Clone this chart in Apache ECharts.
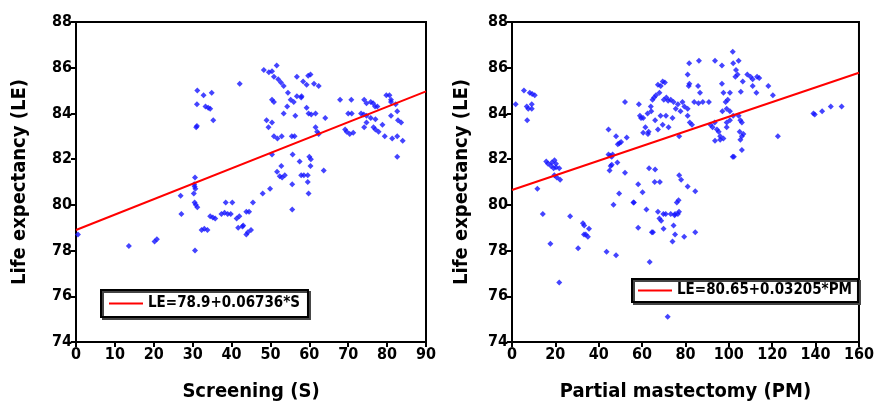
<!DOCTYPE html>
<html>
<head>
<meta charset="utf-8">
<script src="https://cdn.jsdelivr.net/npm/echarts@6/dist/echarts.min.js"></script>
<style>
  html, body { margin: 0; padding: 0; background: #fff; }
  #chart { width: 877px; height: 407px; }
</style>
</head>
<body>
<div id="chart"></div>
<script>
// screening (S) vs life expectancy (LE)
var screeningPts = [
  [0.5,78.7],[13.6,78.2],[20.2,78.4],[20.8,78.5],[26.9,80.4],[27.1,79.6],
  [30.6,81.2],[30.4,80.9],[30.5,80.8],[30.7,80.7],[30.3,80.5],[30.5,80.1],[30.8,80.0],[31.2,79.9],[30.6,78.0],
  [30.9,83.4],[31.1,83.45],[31.1,84.4],[31.2,85.0],[32.8,84.8],[34.9,84.9],[33.3,84.3],[34.0,84.25],[34.5,84.2],[35.3,83.7],[42.1,85.3],
  [32.3,78.9],[33.0,78.95],[33.8,78.9],[34.5,79.5],[35.2,79.45],[35.8,79.4],
  [38.5,80.1],[40.2,80.1],[37.4,79.6],[38.2,79.65],[39.0,79.6],[39.8,79.6],[41.3,79.4],[42.0,79.5],[41.7,79.0],[43.0,79.1],[43.8,79.7],[43.8,78.7],
  [44.5,79.7],[42.8,79.05],[44.2,78.8],[45.0,78.9],[45.5,80.1],[48.0,80.5],[49.9,80.7],
  [50.4,82.2],[51.7,81.45],[52.4,81.25],[53.0,81.2],[53.7,81.3],[52.8,81.7],[55.6,80.9],[55.6,79.8],[55.7,82.2],[57.5,81.9],
  [57.9,81.3],[58.6,81.3],[59.6,81.3],[60.3,81.7],[60.0,82.1],[60.4,82.0],[59.6,81.0],[59.8,80.5],[63.7,81.5],
  [49.0,83.7],[49.5,83.4],[50.4,83.6],[50.9,83.0],[51.8,82.9],[52.9,83.0],
  [48.3,85.9],[49.6,85.8],[50.4,85.85],[51.6,86.1],[50.9,85.6],[52.0,85.5],[52.7,85.35],[53.4,85.2],
  [50.4,84.6],[50.9,84.5],[54.5,84.9],[55.2,84.6],[56.0,84.5],[53.4,84.0],[54.3,84.3],[55.5,83.0],[56.2,83.0],[56.4,83.9],
  [56.8,84.75],[57.9,84.7],[58.0,84.75],[56.8,85.6],[58.4,85.4],[59.3,85.25],[59.7,85.65],[60.3,85.7],
  [59.3,84.25],[59.8,84.0],[60.5,83.95],[61.6,84.0],[61.6,83.4],[62.0,83.2],[62.4,83.1],[64.1,83.8],[61.2,85.3],[62.4,85.2],
  [67.9,84.6],[70.0,84.0],[70.8,84.6],[70.9,84.0],[69.2,83.3],[69.6,83.2],[70.4,83.1],[71.3,83.15],
  [74.1,84.6],[74.7,84.45],[75.8,84.5],[76.4,84.45],[76.9,84.3],[77.5,84.3],[73.3,84.0],[74.0,83.95],[74.7,83.9],
  [74.1,83.4],[74.7,83.6],[75.8,83.8],[77.0,83.75],[76.5,83.4],[77.0,83.3],[77.8,83.2],[78.8,83.5],[79.4,83.0],
  [79.8,84.8],[80.6,84.8],[81.0,84.6],[81.0,84.5],[82.2,84.4],[82.6,84.1],[81.0,83.9],[82.8,83.7],[83.6,83.6],
  [81.3,82.9],[82.6,83.0],[84.0,82.8],[82.6,82.1]
];

// partial mastectomy (PM) vs life expectancy (LE)
var mastectomyPts = [
  [1.7,84.4],[5.5,85.0],[8.2,84.9],[9.3,84.85],[10.5,84.8],[6.8,84.3],[7.5,84.2],[9.1,84.4],[9.1,84.2],[7.0,83.7],
  [11.7,80.7],[14.2,79.6],[17.7,78.3],
  [15.8,81.9],[16.6,81.8],[18.4,81.85],[19.6,81.95],[20.3,81.8],[18.0,81.7],[19.2,81.6],[20.3,81.65],[21.8,81.6],
  [19.5,81.3],[20.7,81.2],[22.2,81.1],
  [21.8,76.6],[26.8,79.5],[30.5,78.1],[32.7,79.2],[33.3,79.1],[33.2,78.7],[34.0,78.7],[35.0,78.6],[35.5,78.95],
  [43.6,77.95],[48.0,77.8],[46.8,80.0],[44.5,83.3],[48.0,83.0],[49.5,82.7],[48.8,82.65],[50.3,82.75],
  [44.5,82.2],[45.3,82.15],[46.0,82.1],[46.4,82.2],[45.5,81.7],[45.0,81.5],[46.0,81.75],[48.6,81.85],[49.4,80.5],
  [52.1,84.5],[52.9,82.95],[52.1,81.4],[56.2,80.1],[58.2,80.9],[58.2,79.0],[60.2,80.55],[62.0,79.8],[63.5,77.5],[64.5,78.8],
  [63.2,81.6],[66.0,81.55],[65.8,81.0],[68.2,81.0],[67.3,79.7],[68.0,79.4],[68.8,79.3],[69.8,79.6],[70.9,79.6],[71.8,75.1],[69.9,78.95],
  [74.0,78.4],[75.2,78.7],[74.5,79.1],[75.2,79.6],[76.0,80.1],[73.2,79.6],[75.0,79.55],[65.0,78.8],[56.0,80.1],
  [77.1,81.3],[78.0,81.1],[81.0,80.8],[84.5,80.6],[76.8,80.2],[77.0,79.7],[76.5,79.6],[84.5,78.8],[79.4,78.6],
  [58.5,84.4],[59.0,83.9],[60.5,83.8],[61.5,83.4],[62.5,84.0],[63.0,83.2],[64.0,84.3],[64.8,84.6],[65.5,84.7],[66.4,84.8],
  [67.3,85.25],[68.0,84.9],[68.6,85.2],[69.5,85.4],[70.5,85.35],[70.0,84.6],[71.2,84.7],[72.0,84.55],[73.2,84.6],
  [66.0,83.7],[67.3,83.3],[68.5,83.9],[69.5,83.5],[71.0,83.9],[72.2,83.4],[74.0,83.8],
  [74.5,84.5],[75.5,84.2],[76.5,84.4],[77.7,84.1],[78.6,84.5],[79.5,84.3],[81.0,84.2],[77.1,83.0],
  [59.5,83.8],[60.5,83.15],[62.7,83.1],[64.2,84.1],
  [81.7,86.2],[86.2,86.3],[93.6,86.3],[96.8,86.1],[101.8,86.7],[81.0,85.7],[81.5,85.2],[81.8,85.3],[85.8,85.2],[86.7,84.9],
  [84.0,84.5],[86.0,84.45],[88.0,84.5],[90.8,84.5],[81.0,83.9],[82.0,83.6],[83.0,83.5],
  [91.5,83.5],[92.5,83.4],[93.5,83.6],[94.5,83.3],[95.3,83.2],[96.0,83.0],[97.5,82.9],[99.0,83.4],[100.5,83.7],[102.0,83.9],
  [93.6,82.8],[96.0,82.85],[101.8,82.1],
  [96.8,85.3],[97.5,84.9],[98.5,84.5],[97.0,84.1],
  [102.0,86.2],[104.5,86.3],[103.3,85.9],[104.0,85.7],[103.0,85.6],
  [108.5,85.7],[110.0,85.6],[111.0,85.5],[113.0,85.6],[114.0,85.55],
  [106.4,85.4],[111.0,85.2],[112.7,84.9],[118.2,85.2],[120.3,84.8],
  [100.5,84.9],[105.5,84.95],[99.5,84.6],
  [99.0,84.2],[100.5,84.1],[104.5,83.9],[105.3,83.7],[106.0,83.6],[99.0,83.6],
  [139.0,84.0],[139.6,83.95],[143.0,84.1],[147.0,84.3],[152.0,84.3],
  [105.0,83.2],[106.7,83.1],[106.0,83.0],[105.3,82.85],[106.0,82.4],[102.3,82.1],[122.6,83.0]
];

// fitted lines, from the legend text
var fitNames = ['LE=78.9+0.06736*S', 'LE=80.65+0.03205*PM'];
var fitIntercept = [78.9, 80.65];
var fitSlope = [0.06736, 0.03205];
var xMax = [90, 160];
var xInterval = [10, 20];
var xNames = ['Screening (S)', 'Partial mastectomy (PM)'];
var yName = 'Life expectancy (LE)';

var FONT = "'Liberation Sans Narrow', 'DejaVu Sans Condensed', 'Arial Narrow', sans-serif";

function fitLine(i) {
  return [[0, fitIntercept[i]], [xMax[i], fitIntercept[i] + fitSlope[i] * xMax[i]]];
}

var axisLine = { lineStyle: { color: '#000', width: 2 } };
var axisTick = { show: true, length: 5, lineStyle: { color: '#000', width: 2 } };
var axisLabel = { color: '#000', fontFamily: FONT, fontWeight: 'bold', fontSize: 16 };
var nameStyle = { color: '#000', fontFamily: FONT, fontWeight: 'bold', fontSize: 20 };
var legendText = { color: '#000', fontFamily: FONT, fontWeight: 'bold', fontSize: 15 };

var chart = echarts.init(document.getElementById('chart'), null, { renderer: 'canvas' });

var option = {
  animation: false,
  backgroundColor: '#fff',
  grid: [
    { left: 76, top: 22, width: 350, height: 321, show: true, borderColor: '#000', borderWidth: 2 },
    { left: 512, top: 22, width: 352, height: 321, show: true, borderColor: '#000', borderWidth: 2 }
  ],
  xAxis: [0, 1].map(function (i) {
    return {
      gridIndex: i, type: 'value', min: 0, max: xMax[i], interval: xInterval[i],
      name: xNames[i], nameLocation: 'middle', nameGap: 40, nameTextStyle: nameStyle,
      axisLine: axisLine, axisTick: axisTick, axisLabel: Object.assign({ margin: 5 }, axisLabel),
      splitLine: { show: false }
    };
  }),
  yAxis: [0, 1].map(function (i) {
    return {
      gridIndex: i, type: 'value', min: 74, max: 88, interval: 2,
      name: yName, nameLocation: 'middle', nameGap: i === 0 ? 46 : 40, nameTextStyle: nameStyle,
      axisLine: axisLine, axisTick: axisTick, axisLabel: Object.assign({ margin: 4 }, axisLabel),
      splitLine: { show: false }
    };
  }),
  legend: [
    {
      data: [{ name: fitNames[0], icon: 'rect' }], left: 101, top: 290,
      itemWidth: 34, itemHeight: 2, itemGap: 6, padding: [6, 8],
      borderColor: '#000', borderWidth: 2, backgroundColor: '#fff',
      shadowColor: '#444', shadowOffsetX: 2, shadowOffsetY: 2, shadowBlur: 0,
      textStyle: legendText
    },
    {
      data: [{ name: fitNames[1], icon: 'rect' }], left: 632, top: 279,
      itemWidth: 34, itemHeight: 2, itemGap: 6, padding: [4, 6],
      borderColor: '#000', borderWidth: 2, backgroundColor: '#fff',
      shadowColor: '#444', shadowOffsetX: 2, shadowOffsetY: 2, shadowBlur: 0,
      textStyle: legendText
    }
  ],
  series: [
    {
      name: 'screening', type: 'scatter', xAxisIndex: 0, yAxisIndex: 0,
      data: screeningPts, symbol: 'diamond', symbolSize: 6,
      itemStyle: { color: '#1515ff' }
    },
    {
      name: 'mastectomy', type: 'scatter', xAxisIndex: 1, yAxisIndex: 1,
      data: mastectomyPts, symbol: 'diamond', symbolSize: 6,
      itemStyle: { color: '#1515ff' }
    },
    {
      name: fitNames[0], type: 'line', xAxisIndex: 0, yAxisIndex: 0,
      data: fitLine(0), symbol: 'none', z: 3,
      lineStyle: { color: '#ff0000', width: 2 }, itemStyle: { color: '#ff0000' }
    },
    {
      name: fitNames[1], type: 'line', xAxisIndex: 1, yAxisIndex: 1,
      data: fitLine(1), symbol: 'none', z: 3,
      lineStyle: { color: '#ff0000', width: 2 }, itemStyle: { color: '#ff0000' }
    }
  ]
};

chart.setOption(option);
</script>
</body>
</html>
